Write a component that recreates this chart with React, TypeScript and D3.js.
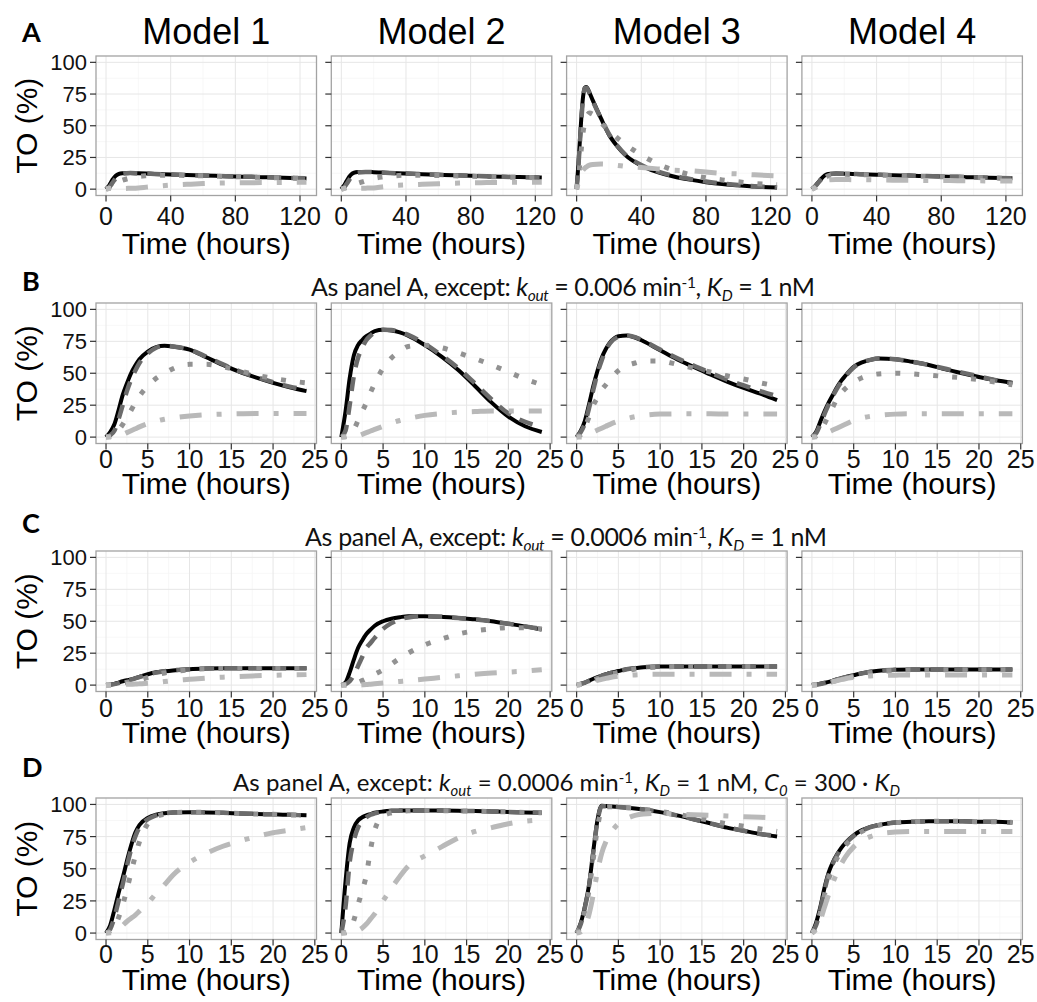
import React from "react";
import * as d3 from "d3";

// ---- data ----
const modelNames = ["Model 1", "Model 2", "Model 3", "Model 4"];
const panelLetters = ["A", "B", "C", "D"];
const yTickValues = [0, 25, 50, 75, 100];
const longXTicks = [0, 40, 80, 120];
const shortXTicks = [0, 5, 10, 15, 20, 25];

// sampling times (hours)
const longTime = [0, 1, 2, 3, 4, 5, 6, 8, 10, 15, 20, 25, 30, 40, 50, 60, 70, 80, 90, 100, 110, 124];
const shortTime = [0, 0.5, 1, 1.5, 2, 2.5, 3, 3.5, 4, 5, 6, 7, 8, 10, 12, 14, 16, 18, 20, 22, 24];

// each panel: [solid, dashed, dotted, dotdash] TO (%)
const a1 = [
  [0, 1.5, 3, 5.3, 7.5, 9.2, 10.5, 12, 12.5, 12.7, 12.5, 12.3, 12, 11.5, 11.1, 10.8, 10.4, 10, 9.7, 9.3, 9, 8.5],
  [0, 0.5, 1.5, 3.2, 5, 6.8, 8.5, 11, 12.2, 12.7, 12.5, 12.3, 12, 11.5, 11.1, 10.8, 10.4, 10, 9.7, 9.3, 9, 8.6],
  [0, 0.5, 1.2, 2, 3, 4, 5, 6, 7, 8.8, 10, 10.6, 11, 11, 10.8, 10.5, 10.1, 9.8, 9.5, 9.2, 8.9, 8.5],
  [0, 0.3, 0.5, 0.5, 0.5, 0.5, 0.5, 0.5, 0.5, 0.7, 1, 1.6, 2.2, 3.2, 3.8, 4.4, 4.8, 5, 5.1, 5.2, 5.3, 5.4],
];
const a2 = [
  [0, 1.8, 3.5, 5.8, 8, 10, 11.5, 13, 13.5, 13.6, 13.4, 13.1, 12.8, 12.3, 11.8, 11.3, 10.9, 10.5, 10.1, 9.8, 9.5, 9.2],
  [0, 0.6, 1.8, 3.6, 5.5, 7.5, 9.3, 12, 13.2, 13.6, 13.4, 13.1, 12.8, 12.3, 11.8, 11.3, 10.9, 10.5, 10.1, 9.8, 9.5, 9.2],
  [0, 0.4, 1, 1.5, 2.2, 2.6, 3, 3.8, 4.5, 6.5, 8.4, 9.5, 10.2, 11, 11, 10.8, 10.5, 10.2, 9.9, 9.6, 9.3, 9],
  [0, 0.3, 0.6, 0.8, 0.9, 1, 0.9, 0.8, 0.7, 0.8, 1, 1.7, 2.5, 3.3, 3.8, 4.3, 4.7, 5, 5.2, 5.3, 5.4, 5.5],
];
const a3 = [
  [0, 18, 38, 58, 73, 80, 80.5, 76, 70, 56, 43, 34, 27, 18.5, 13.5, 10, 7.5, 5.5, 4, 3, 2, 1.3],
  [0, 16, 36, 56, 72, 79.5, 80, 75.5, 69.5, 56, 43.5, 34.5, 27.5, 19, 14, 10.5, 8, 6, 4.5, 3.3, 2.3, 1.5],
  [0, 8, 20, 33, 45, 52, 57, 60, 59, 52.5, 46, 40.5, 35.5, 27, 20, 15, 11.5, 9, 7.3, 5.8, 4.5, 3.5],
  [0, 5, 10, 13, 15, 16.5, 17.5, 19, 19.5, 19.8, 19.5, 18.8, 18, 17, 16, 15, 14.5, 13.5, 12.5, 12, 11.3, 10.5],
];
const a4 = [
  [0, 1.2, 2.5, 4, 5.5, 7, 8.5, 10.8, 12, 12.3, 12.2, 12, 11.8, 11.4, 11, 10.7, 10.3, 10, 9.7, 9.3, 9, 8.6],
  [0, 1, 2.2, 3.7, 5.2, 6.7, 8.2, 10.5, 11.8, 12.3, 12.2, 12, 11.8, 11.4, 11, 10.7, 10.3, 10, 9.7, 9.3, 9, 8.6],
  [0, 0.7, 1.5, 2.7, 4, 5.5, 7, 9, 10.5, 11.5, 11.7, 11.6, 11.5, 11.2, 10.8, 10.5, 10.1, 9.8, 9.5, 9.2, 8.9, 8.5],
  [0, 0.5, 1, 2, 3, 4, 5, 6.5, 7.2, 7.6, 7.6, 7.5, 7.5, 7.3, 7.1, 7, 6.9, 6.8, 6.7, 6.6, 6.5, 6.4],
];

const b1 = [
  [0, 4, 10, 21, 33, 42, 50, 56, 61, 67, 70.5, 71.5, 71, 68.5, 62.5, 56.5, 51, 46.5, 42.5, 39, 36],
  [0, 1.5, 5, 14, 25, 36, 45, 52, 58, 65.5, 70, 71.5, 71, 68.5, 63, 57, 51.5, 47, 43, 39.5, 37],
  [0, 0.5, 2, 5.5, 10, 15.5, 21, 27, 32, 40, 46, 50, 53.5, 57, 57, 55, 52, 48.5, 46, 44, 42.5],
  [0, 0, 0.3, 1, 2, 3.5, 5, 6.5, 8, 10.5, 12.5, 14, 15, 16.5, 17.5, 18, 18.3, 18.5, 18.5, 18.5, 18.5],
];
const b2 = [
  [0, 20, 46, 64, 72, 76, 79, 81, 83, 84, 83.5, 82, 79.5, 72, 63, 52.5, 40, 27, 16, 8.5, 4],
  [0, 5, 25, 48, 62, 70, 76, 79.5, 82, 84, 83.8, 82.5, 80, 73, 64, 54, 42, 29.5, 18.5, 12, 8],
  [0, 0.5, 2, 6, 13, 20, 27, 35, 42, 54, 62, 67, 71, 72, 70, 66, 61.5, 56.5, 51, 45.5, 41],
  [0, 0, 0, 0.5, 1, 2.2, 3.5, 4.8, 6, 8.5, 11, 13, 14.5, 17, 18.5, 19.5, 20, 20.5, 20.5, 20.5, 20.5],
];
const b3 = [
  [0, 5, 13, 26, 40, 52, 62, 69, 74, 79, 79.5, 78, 75, 68, 61, 55, 49, 43.5, 38.5, 34, 29],
  [0, 4, 11, 23, 37, 50, 60, 68, 73.5, 78.5, 79.5, 78.3, 75.5, 68.5, 62, 56, 50.5, 45, 40.5, 36, 32],
  [0, 2, 8, 16, 25, 31, 37, 41, 45, 52, 56, 58, 59.5, 59.5, 57, 54, 51, 48, 45.5, 42.5, 40],
  [0, 0, 0.5, 2, 4, 5.5, 7, 8.5, 10, 12.5, 14.5, 16, 17, 18, 18.2, 18.2, 18.2, 18, 18, 18, 18],
];
const b4 = [
  [0, 4, 12, 20, 27, 33, 39, 44, 48, 55, 58.5, 60.5, 61.5, 61, 59, 56.5, 53, 50, 47, 44.5, 42.5],
  [0, 3, 10, 18, 25.5, 32, 38, 43, 47.5, 54.5, 58.5, 60.5, 61.5, 61, 59, 56.5, 53.5, 50.5, 47.5, 44.5, 42],
  [0, 1, 5, 10.5, 17, 23.5, 30, 34.5, 38, 43, 46.5, 48.5, 49.5, 50, 49.5, 48.5, 47.5, 46.5, 45, 43, 41],
  [0, 0.2, 1, 2.5, 4, 5.5, 7, 8.5, 10, 13, 15, 16.3, 17, 18, 18.3, 18.3, 18.3, 18.3, 18.3, 18.3, 18.3],
];

const c1 = [
  [0, 0.4, 1, 2, 3, 3.8, 4.5, 5.5, 6.5, 8.5, 10, 10.8, 11.5, 12.5, 13, 13.2, 13.2, 13.2, 13.2, 13.2, 13.2],
  [0, 0.3, 0.8, 1.6, 2.6, 3.5, 4.3, 5.3, 6.3, 8.2, 9.8, 10.8, 11.5, 12.5, 13, 13.2, 13.2, 13.2, 13.2, 13.2, 13.2],
  [0, 0.1, 0.3, 0.8, 1.5, 2.2, 2.8, 3.4, 4, 6, 8, 9.5, 10.5, 12, 12.8, 13, 13, 13, 13, 13, 13],
  [0, 0, 0.1, 0.3, 0.5, 0.6, 0.7, 0.8, 1, 1.5, 2, 2.8, 3.5, 4.5, 5.5, 6.2, 6.8, 7.3, 7.7, 8, 8.3],
];
const c2 = [
  [0, 2, 10, 20, 29, 35, 40, 43.5, 46.5, 50, 52, 53.2, 54, 54, 53.5, 52.5, 51.5, 50, 48, 46, 43.5],
  [0, 0.8, 3, 8, 15, 22, 29, 33, 37, 44, 48.5, 51.5, 53, 54, 53.5, 52.5, 51.5, 50, 48, 46, 44],
  [0, 0, 0.5, 1, 2, 3.5, 5, 6.8, 8.5, 12, 16.5, 21, 25, 31.5, 36, 40, 42.5, 44, 45, 45, 44],
  [0, 0, 0, 0, 0, 0.2, 0.4, 0.7, 1, 1.6, 2.3, 2.9, 3.5, 4.8, 6, 7.3, 8.5, 9.5, 10.2, 11, 12],
];
const c3 = [
  [0, 1, 2, 3.5, 5, 6.3, 7.5, 8.5, 9.5, 11, 12.5, 13.3, 14, 14.5, 14.5, 14.5, 14.5, 14.5, 14.5, 14.5, 14.5],
  [0, 0.9, 1.9, 3.3, 4.8, 6.1, 7.3, 8.3, 9.3, 10.9, 12.4, 13.3, 14, 14.5, 14.5, 14.5, 14.5, 14.5, 14.5, 14.5, 14.5],
  [0, 0.7, 1.5, 2.7, 4, 5.3, 6.5, 7.5, 8.5, 10, 11.5, 12.5, 13.3, 14.2, 14.5, 14.5, 14.5, 14.5, 14.5, 14.5, 14.5],
  [0, 0.5, 1, 2, 3, 3.8, 4.5, 5.3, 6, 7, 7.6, 8, 8.3, 8.5, 8.5, 8.5, 8.5, 8.5, 8.5, 8.5, 8.5],
];
const c4 = [
  [0, 0.5, 1, 1.8, 2.5, 3.5, 4.5, 5.4, 6.3, 7.8, 9.3, 10.5, 11.3, 12, 12.3, 12.3, 12.3, 12.3, 12.3, 12.3, 12.3],
  [0, 0.4, 0.9, 1.7, 2.4, 3.4, 4.4, 5.3, 6.2, 7.7, 9.2, 10.4, 11.2, 12, 12.3, 12.3, 12.3, 12.3, 12.3, 12.3, 12.3],
  [0, 0.3, 0.7, 1.3, 2, 2.9, 3.8, 4.6, 5.5, 7, 8.5, 9.6, 10.5, 11.5, 12, 12, 12, 12, 12, 12, 12],
  [0, 0.2, 0.5, 1.2, 2, 2.7, 3.5, 4.3, 5, 6, 6.8, 7.2, 7.5, 7.8, 8, 8, 8, 8, 8, 8, 8],
];

const d1 = [
  [0, 6, 18, 31, 43, 56, 68, 78, 84, 89.5, 92, 93.2, 93.8, 94, 93.8, 93.5, 93, 92.6, 92.3, 91.9, 91.5],
  [0, 3, 12, 25, 38, 52, 65, 75, 82, 88.5, 91.5, 93, 93.8, 94, 93.8, 93.5, 93, 92.6, 92.3, 91.9, 91.5],
  [0, 1.5, 5, 12, 22, 34, 47, 60, 71, 85, 90.5, 92.5, 93.5, 94, 93.8, 93.5, 93, 92.6, 92.3, 91.9, 91.5],
  [0, 0.2, 1, 3, 6, 9, 11.5, 14, 17, 23, 31, 37.5, 45, 55, 62, 67.5, 71.5, 75, 78, 80, 82],
];
const d2 = [
  [0, 40, 70, 82, 87.5, 90, 91.5, 92.5, 93.5, 94.5, 95, 95.2, 95.3, 95.3, 95.2, 95, 94.8, 94.5, 94.2, 93.8, 93.5],
  [0, 20, 55, 72, 82, 87, 90, 92, 93, 94.5, 95, 95.2, 95.3, 95.3, 95.2, 95, 94.8, 94.5, 94.2, 93.8, 93.5],
  [0, 0.5, 3, 10, 22, 33, 45, 65, 80, 91, 93.5, 94.5, 95, 95.3, 95.2, 95, 94.8, 94.5, 94.2, 93.8, 93.5],
  [0, 0, 0.5, 1, 2, 4, 7, 11, 15, 25, 35, 44, 52, 60, 67, 74, 79, 82, 85, 87, 88],
];
const d3Panel = [
  [0, 8, 21, 38, 64, 88, 99, 98.8, 98.5, 98, 97.5, 96.8, 96, 94, 91.5, 88.5, 85.3, 82, 79.5, 77, 75],
  [0, 7, 20, 37, 63, 87, 98.5, 98.6, 98.4, 98, 97.5, 96.8, 96, 94, 91.5, 88.5, 85.3, 82.2, 79.5, 77, 75.5],
  [0, 6, 18, 34, 58, 82, 96, 98, 98.2, 98, 97.5, 97, 96.3, 94.5, 92.5, 90, 87.5, 85, 83, 81, 79],
  [0, 1, 5, 15, 30, 48, 62, 71, 77, 85, 89, 91.5, 92.5, 93, 92.5, 92, 91.5, 91, 90.5, 90, 89.5],
];
const d4 = [
  [0, 8, 20, 35, 47, 55, 61, 66, 70, 76, 80, 82.5, 84, 86, 86.5, 87, 87, 87, 86.5, 86.5, 86],
  [0, 6, 18, 33, 45.5, 54, 60.5, 65.5, 69.5, 75.5, 79.5, 82.3, 84, 86, 86.5, 87, 87, 87, 86.5, 86.5, 86],
  [0, 5, 16, 30, 42, 51, 58, 63.5, 68, 74.5, 79, 82, 83.8, 85.8, 86.5, 87, 87, 87, 86.5, 86.5, 86],
  [0, 3, 10, 20, 30, 39, 47, 53.5, 59, 67, 72, 75, 77, 78.5, 79, 79, 79, 79, 79, 79, 79],
];

const panelRows = [
  [a1, a2, a3, a4],
  [b1, b2, b3, b4],
  [c1, c2, c3, c4],
  [d1, d2, d3Panel, d4],
];

// subtitle pieces: [text, kind]  kind: n normal, i italic, sub italic subscript, sup superscript
const subtitleB = [
  ["As panel A, except: ", "n"], ["k", "i"], ["out", "sub"], [" = 0.006 min", "n"], ["-1", "sup"],
  [", ", "n"], ["K", "i"], ["D", "sub"], [" = 1 nM", "n"],
];
const subtitleC = [
  ["As panel A, except: ", "n"], ["k", "i"], ["out", "sub"], [" = 0.0006 min", "n"], ["-1", "sup"],
  [", ", "n"], ["K", "i"], ["D", "sub"], [" = 1 nM", "n"],
];
const subtitleD = [
  ["As panel A, except: ", "n"], ["k", "i"], ["out", "sub"], [" = 0.0006 min", "n"], ["-1", "sup"],
  [", ", "n"], ["K", "i"], ["D", "sub"], [" = 1 nM, ", "n"], ["C", "i"], ["0", "sub"],
  [" = 300 \u00b7 ", "n"], ["K", "i"], ["D", "sub"],
];
const subtitles = [null, subtitleB, subtitleC, subtitleD];

// ---- layout / style ----
const W = 1037;
const H = 1002;
const panelW = 220.5;
const colLeft = [96, 331.3, 566.6, 801.9];
const rowLayout = [
  { top: 56, height: 139.5, tickBase: 225, titleBase: 253.5, letterBase: 41.7 },
  { top: 303, height: 140.5, tickBase: 468, titleBase: 493.5, letterBase: 290.5, subBase: 296, subX: 563, subW: 504, subSize: 25 },
  { top: 551, height: 140.5, tickBase: 716.5, titleBase: 742.5, letterBase: 533, subBase: 546, subX: 566, subW: 522, subSize: 25 },
  { top: 798, height: 141.5, tickBase: 963, titleBase: 989.5, letterBase: 777, subBase: 791, subX: 566.5, subW: 667, subSize: 24 },
];
const lineStyles = [
  { color: "#000000", width: 4, dash: undefined },
  { color: "#6b6b6b", width: 4.5, dash: "14,10" },
  { color: "#929292", width: 5, dash: "5,14" },
  { color: "#b9b9b9", width: 5, dash: "5,15,22,15" },
];
const axisFont = "'Liberation Sans', Arial, sans-serif";
const noteFont = "Lato, 'Open Sans', sans-serif";

function Subtitle({ pieces, x, y, width, size }) {
  const small = size * 0.62;
  let shift = 0;
  return (
    <text x={x} y={y} textAnchor="middle" fontFamily={noteFont} fontSize={size} fill="#111"
      textLength={width} lengthAdjust="spacing">
      {pieces.map(([txt, kind], i) => {
        const target = kind === "sub" ? 5 : kind === "sup" ? -8 : 0;
        const dy = target - shift;
        shift = target;
        return (
          <tspan key={i} dy={dy}
            fontStyle={kind === "i" || kind === "sub" ? "italic" : "normal"}
            fontSize={kind === "sub" || kind === "sup" ? small : size}>
            {txt}
          </tspan>
        );
      })}
    </text>
  );
}

function Panel({ r, c, series }) {
  const lay = rowLayout[r];
  const left = colLeft[c];
  const time = r === 0 ? longTime : shortTime;
  const ticks = r === 0 ? longXTicks : shortXTicks;
  const tMax = time[time.length - 1];
  const pad = tMax * 0.05;
  const x = d3.scaleLinear().domain([-pad, tMax + pad]).range([left, left + panelW]);
  const y = d3.scaleLinear().domain([-5, 105]).range([lay.top + lay.height, lay.top]);
  const minorX = ticks.slice(0, -1).map((t, i) => (t + ticks[i + 1]) / 2);
  const minorY = yTickValues.slice(0, -1).map((t, i) => (t + yTickValues[i + 1]) / 2);
  const line = d3.line<number>()
    .x((_, i) => x(time[i]))
    .y((v) => y(v))
    .curve(d3.curveMonotoneX);
  const bottom = lay.top + lay.height;
  const cx = left + panelW / 2;

  return (
    <g>
      <rect x={left} y={lay.top} width={panelW} height={lay.height} fill="#fff" />
      {minorX.map((t) => (
        <line key={"mx" + t} x1={x(t)} x2={x(t)} y1={lay.top} y2={bottom} stroke="#f3f3f3" strokeWidth={0.7} />
      ))}
      {minorY.map((v) => (
        <line key={"my" + v} x1={left} x2={left + panelW} y1={y(v)} y2={y(v)} stroke="#f3f3f3" strokeWidth={0.7} />
      ))}
      {ticks.map((t) => (
        <line key={"gx" + t} x1={x(t)} x2={x(t)} y1={lay.top} y2={bottom} stroke="#e6e6e6" strokeWidth={1} />
      ))}
      {yTickValues.map((v) => (
        <line key={"gy" + v} x1={left} x2={left + panelW} y1={y(v)} y2={y(v)} stroke="#e6e6e6" strokeWidth={1} />
      ))}
      {series.map((vals, s) => (
        <path key={s} d={line(vals) || ""} fill="none" stroke={lineStyles[s].color}
          strokeWidth={lineStyles[s].width} strokeDasharray={lineStyles[s].dash}
          strokeLinecap="butt" strokeLinejoin="round" />
      ))}
      <rect x={left} y={lay.top} width={panelW} height={lay.height} fill="none" stroke="#a3a3a3" strokeWidth={1.3} />
      {yTickValues.map((v) => (
        <line key={"ty" + v} x1={left - 6} x2={left} y1={y(v)} y2={y(v)} stroke="#333" strokeWidth={1.2} />
      ))}
      {ticks.map((t) => (
        <line key={"tx" + t} x1={x(t)} x2={x(t)} y1={bottom} y2={bottom + 6} stroke="#333" strokeWidth={1.2} />
      ))}
      {c === 0 && yTickValues.map((v) => (
        <text key={"ly" + v} x={left - 9} y={y(v)} dy="0.36em" textAnchor="end"
          fontFamily={axisFont} fontSize={22} fill="#111">{v}</text>
      ))}
      {ticks.map((t) => (
        <text key={"lx" + t} x={x(t)} y={lay.tickBase} textAnchor="middle"
          fontFamily={axisFont} fontSize={25} fill="#111">{t}</text>
      ))}
      <text x={cx} y={lay.titleBase} textAnchor="middle" fontFamily={axisFont} fontSize={30} fill="#000">
        Time (hours)
      </text>
      {c === 0 && (
        <text transform={`translate(37,${lay.top + lay.height / 2}) rotate(-90)`} textAnchor="middle"
          fontFamily={axisFont} fontSize={30} fill="#000">TO (%)</text>
      )}
      {r === 0 && (
        <text x={cx} y={44} textAnchor="middle" fontFamily={axisFont} fontSize={36} fill="#000">
          {modelNames[c]}
        </text>
      )}
    </g>
  );
}

export default function App() {
  return (
    <svg width={W} height={H} viewBox={`0 0 ${W} ${H}`}
      style={{ position: "absolute", left: 0, top: 0, display: "block", background: "#fff" }}>
      <rect width={W} height={H} fill="#fff" />
      {panelRows.map((row, r) => (
        <g key={r}>
          <text x={22} y={rowLayout[r].letterBase} fontFamily={noteFont} fontWeight={700}
            fontSize={27} fill="#000">{panelLetters[r]}</text>
          {subtitles[r] && (
            <Subtitle pieces={subtitles[r]} x={rowLayout[r].subX} y={rowLayout[r].subBase}
              width={rowLayout[r].subW} size={rowLayout[r].subSize} />
          )}
          {row.map((series, c) => (
            <Panel key={c} r={r} c={c} series={series} />
          ))}
        </g>
      ))}
    </svg>
  );
}
